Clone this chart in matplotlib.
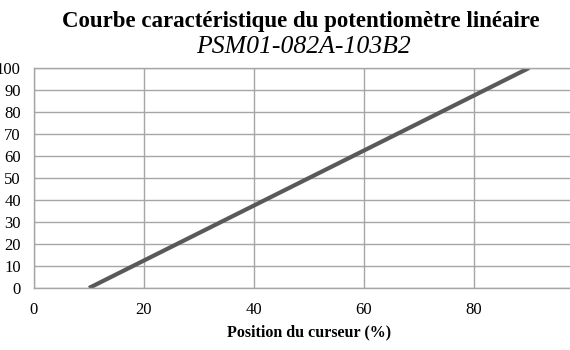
import matplotlib
matplotlib.use("Agg")
import matplotlib.pyplot as plt

position = [10, 90]
resistance = [0, 100]
x_ticks = [0, 20, 40, 60, 80]
y_ticks = [0, 10, 20, 30, 40, 50, 60, 70, 80, 90, 100]
title = "Courbe caractéristique du potentiomètre linéaire"
subtitle = "PSM01-082A-103B2"
xlabel = "Position du curseur (%)"

fig = plt.figure(figsize=(5.7, 3.5), dpi=100)
ax = fig.add_axes([34/570, 62/350, 550/570, 220/350])
ax.plot(position, resistance, color="#595959", lw=3, solid_capstyle="butt")
ax.set_xlim(0, 100)
ax.set_ylim(0, 100)
ax.set_xticks(x_ticks)
ax.set_yticks(y_ticks)
ax.grid(True, color="#a6a6a6", lw=1)
ax.set_axisbelow(True)
for s in ax.spines.values():
    s.set_color("#a6a6a6")
    s.set_linewidth(1)
ax.tick_params(length=0, labelsize=12)
for lab in ax.get_xticklabels() + ax.get_yticklabels():
    lab.set_fontfamily("Liberation Serif")
ax.tick_params(axis="y", pad=9.5)
ax.tick_params(axis="x", pad=10)
ax.set_xlabel(xlabel, fontfamily="Liberation Serif", fontweight="bold", fontsize=11.5, labelpad=5)
fig.text(0.528, 1 - 27/350, title, ha="center", va="baseline",
         fontfamily="Liberation Serif", fontweight="bold", fontsize=16.5)
fig.text(0.533, 1 - 53/350, subtitle, ha="center", va="baseline",
         fontfamily="Liberation Serif", fontstyle="italic", fontsize=18.5)
fig.savefig("out.png", dpi=100)
